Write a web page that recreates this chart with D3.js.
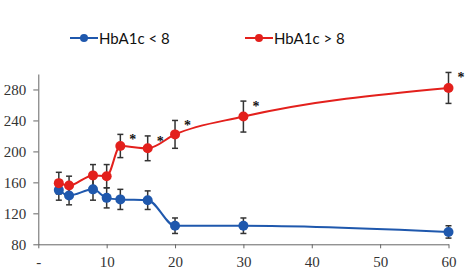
<!DOCTYPE html>
<html>
<head>
<meta charset="utf-8">
<script src="https://cdn.jsdelivr.net/npm/d3@7"></script>
<style>
  body { margin: 0; background: #fff; }
  .tick text { font-family: "Times New Roman", "Liberation Serif", "DejaVu Serif", serif; font-size: 15px; fill: #333; }
  .etoile { font-family: "Times New Roman", "Liberation Serif", "DejaVu Serif", serif; }
</style>
</head>
<body>
<div class="graph"></div>
<script>
// valeurs
const temps = [3, 4.5, 8, 10, 12, 16, 20, 30, 60]
const basMoy = [150, 143, 151, 140, 138, 137, 104, 104, 96]
const basErr = [13, 12, 14, 13, 13, 12, 10, 10, 8]
const hautMoy = [159, 156, 169, 168, 207, 204, 222, 245, 282]
const hautErr = [14, 12, 14, 15, 15, 16, 18, 20, 20]
const etoiles = [false, false, false, false, true, true, true, true, true]
const xTicks = [0, 10, 20, 30, 40, 50, 60]
const yTicks = [80, 120, 160, 200, 240, 280]
const series = ["HbA1c < 8", "HbA1c > 8"]
const couleurs = ["#1f58ad", "#e3201c"]

let margin = { top: 74, right: 19.5, bottom: 28.7, left: 38.3 }
let width = 468 - margin.left - margin.right,
    height = 273 - margin.top - margin.bottom

let svg = d3.select(".graph")
    .append("svg")
    .attr("width", 468)
    .attr("height", 273)
    .append("g")
    .attr("transform", "translate(" + margin.left + "," + margin.top + ")")

let x = d3.scaleLinear().domain([0, 60]).range([0, width])
let y = d3.scaleLinear().domain([80, 300]).range([height, 0])

// axes
let axeX = svg.append("g")
    .attr("transform", "translate(0," + height + ")")
    .call(d3.axisBottom(x).tickValues(xTicks).tickSize(4).tickSizeOuter(0)
        .tickFormat(d => d === 0 ? "-" : d))
let axeY = svg.append("g")
    .call(d3.axisLeft(y).tickValues(yTicks).tickSize(5).tickSizeOuter(0))

axeX.attr("font-family", null).attr("font-size", null)
axeY.attr("font-family", null).attr("font-size", null)
svg.selectAll(".domain, .tick line").attr("stroke", "#666").attr("stroke-width", 1)
axeX.selectAll(".tick text").attr("dy", "1.05em")
axeY.selectAll(".tick text").attr("x", -12)

const tableaux = [
    temps.map((t, i) => ({ t: t, v: basMoy[i], e: basErr[i] })),
    temps.map((t, i) => ({ t: t, v: hautMoy[i], e: hautErr[i], s: etoiles[i] }))
]

// barres d'erreur
tableaux.forEach(tab => {
    let g = svg.append("g").attr("stroke", "#333").attr("stroke-width", 1.5)
    g.selectAll("line.v").data(tab).enter().append("line")
        .attr("x1", d => x(d.t)).attr("x2", d => x(d.t))
        .attr("y1", d => y(d.v - d.e)).attr("y2", d => y(d.v + d.e))
    g.selectAll("line.h1").data(tab).enter().append("line")
        .attr("x1", d => x(d.t) - 3).attr("x2", d => x(d.t) + 3)
        .attr("y1", d => y(d.v + d.e)).attr("y2", d => y(d.v + d.e))
    g.selectAll("line.h2").data(tab).enter().append("line")
        .attr("x1", d => x(d.t) - 3).attr("x2", d => x(d.t) + 3)
        .attr("y1", d => y(d.v - d.e)).attr("y2", d => y(d.v - d.e))
})

// lignes + points
tableaux.forEach((tab, k) => {
    svg.append("path")
        .datum(tab)
        .attr("fill", "none")
        .attr("stroke", couleurs[k])
        .attr("stroke-width", 2)
        .attr("d", d3.line()
            .x(d => x(d.t))
            .y(d => y(d.v))
            .curve(d3.curveMonotoneX))
    svg.append("g").selectAll("circle")
        .data(tab).enter().append("circle")
        .attr("cx", d => x(d.t))
        .attr("cy", d => y(d.v))
        .attr("r", 5)
        .style("fill", couleurs[k])
})

// étoiles
svg.append("g").selectAll("text")
    .data(tableaux[1].filter(d => d.s))
    .enter().append("text")
    .attr("class", "etoile")
    .text("*")
    .attr("x", d => x(d.t) + 9)
    .attr("y", d => y(d.v + d.e) + 10)
    .style("font-size", "14px")
    .style("font-weight", "bold")
    .style("fill", "#111")

// légende
const legX = [70, 245]
series.forEach((s, k) => {
    let lg = d3.select("svg").append("g")
        .attr("transform", "translate(" + legX[k] + ",38)")
    lg.append("line").attr("x1", 0).attr("x2", 28)
        .attr("stroke", couleurs[k]).attr("stroke-width", 2)
    lg.append("circle").attr("cx", 14).attr("r", 4).style("fill", couleurs[k])
    lg.append("text").text(s)
        .attr("x", 29).attr("y", 5.5)
        .style("font-family", "Lato")
        .style("font-size", "15px")
        .style("fill", "#111")
})
</script>
</body>
</html>
